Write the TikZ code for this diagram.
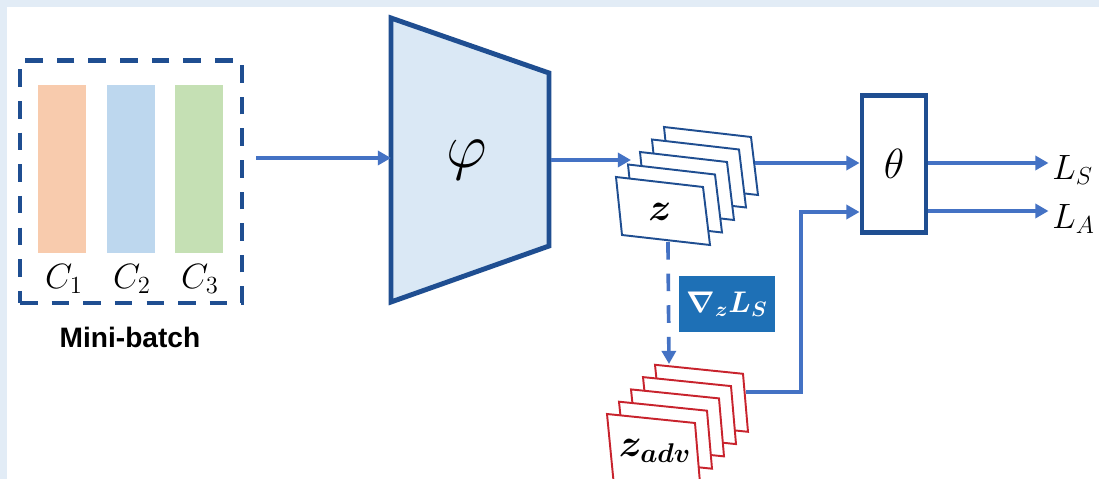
\documentclass[tikz,border=0pt]{standalone}
\usepackage{fix-cm}
\usepackage{amsmath}
\usepackage{fontspec}
\setsansfont{Liberation Sans}
\usetikzlibrary{arrows.meta}

\definecolor{bgblue}{RGB}{226,236,246}
\definecolor{frameblue}{RGB}{31,78,145}
\definecolor{arrowblue}{RGB}{68,114,196}
\definecolor{phifill}{RGB}{218,232,245}
\definecolor{gradfill}{RGB}{30,112,182}
\definecolor{advred}{RGB}{200,35,45}
\definecolor{cafill}{RGB}{248,203,173}
\definecolor{cbfill}{RGB}{189,215,238}
\definecolor{ccfill}{RGB}{197,224,180}

\begin{document}
\begin{tikzpicture}[x=0.02cm,y=-0.02cm,
    flow/.style={draw=arrowblue,line width=2.1pt,-{Triangle[length=7.5pt,width=8pt]}},
    sheet/.style={draw=#1,line width=1.1pt,fill=white},
    bar/.style={minimum width=0.98cm,minimum height=3.36cm,inner sep=0pt},
    mathlbl/.style={inner sep=0pt,font=\fontsize{#1}{#1}\selectfont}]

\useasboundingbox (0,0) rectangle (1099,479);
\fill[bgblue] (0,0) rectangle (1099,479);
\fill[white] (7,7) rectangle (1099,479);
\clip (0,0) rectangle (1099,479);

\node[
    draw=frameblue,
    line width=2.3pt,
    dash pattern=on 10pt off 8pt,
    minimum width=4.44cm,
    minimum height=4.86cm
] (batch) at (131,182) {};

\node[bar,fill=cafill] (ca) at (62,169) {};
\node[bar,fill=cbfill] (cb) at (131,169) {};
\node[bar,fill=ccfill] (cc) at (199,169) {};

\node[mathlbl=20] (la) at (64,279) {$C_1$};
\node[mathlbl=20] (lb) at (132,279) {$C_2$};
\node[mathlbl=20] (lc) at (200,279) {$C_3$};

\node[font=\sffamily\bfseries\fontsize{16}{19}\selectfont] (mb) at (130,337) {Mini-batch};

\draw[draw=frameblue,line width=2.8pt,fill=phifill]
    (391,18) -- (549,73) -- (549,246) -- (391,302) -- cycle;
\node[mathlbl=36] (phi) at (467,160) {$\varphi$};
\coordinate (phiin) at (391,158);
\coordinate (phiout) at (551,160);

\draw[flow,shorten <=7pt] (batch.east |- phiin) -- (phiin);

\foreach \i in {4,3,2,1,0}
    \draw[sheet=frameblue,shift={(12*\i,-12.5*\i)}]
        (616,177) -- (703,187) -- (710,245) -- (622,235) -- cycle;
\node[mathlbl=22] (z) at (660,212) {$\boldsymbol{z}$};
\coordinate (zin) at (631,160);
\coordinate (zout) at (755,163);
\coordinate (zbot) at (668,242);

\draw[flow] (phiout) -- (zin);

\node[
    draw=frameblue,
    line width=2.8pt,
    minimum width=1.28cm,
    minimum height=2.74cm,
    font=\fontsize{24}{24}\selectfont
] (theta) at (894,164) {$\theta$};
\coordinate (thetalow) at (theta.west |- 0,212);

\draw[flow] (zout) -- (zout -| theta.west);

\node[
    fill=gradfill,
    text=white,
    minimum width=1.92cm,
    minimum height=1.12cm,
    font=\fontsize{17}{17}\selectfont
] (grad) at (727,304) {$\boldsymbol{\nabla_z L_S}$};

\foreach \i in {4,3,2,1}
    \draw[sheet=advred,shift={(12*\i,-12.3*\i)}]
        (607,414) -- (695,423) -- (700,481) -- (613,472) -- cycle;
\draw[sheet=advred] (607,414) -- (695,423) -- (701,495) -- (614,486) -- cycle;
\node[mathlbl=22] (zadv) at (655,451) {$\boldsymbol{z_{adv}}$};
\coordinate (advtop) at (669,364);
\coordinate (advout) at (746,392);

\draw[flow,dash pattern=on 10pt off 8pt] (zbot) -- (advtop);
\draw[flow] (advout) -- ++(55,0) |- (thetalow);

\node[mathlbl=20,anchor=west] (ls) at (1052,170) {$L_S$};
\node[mathlbl=20,anchor=west] (la2) at (1052,219) {$L_A$};

\draw[flow] (theta.east |- 0,163) -- ([xshift=-2pt]ls.west |- 0,163);
\draw[flow] (theta.east |- 0,211) -- ([xshift=-2pt]la2.west |- 0,211);

\end{tikzpicture}
\end{document}
